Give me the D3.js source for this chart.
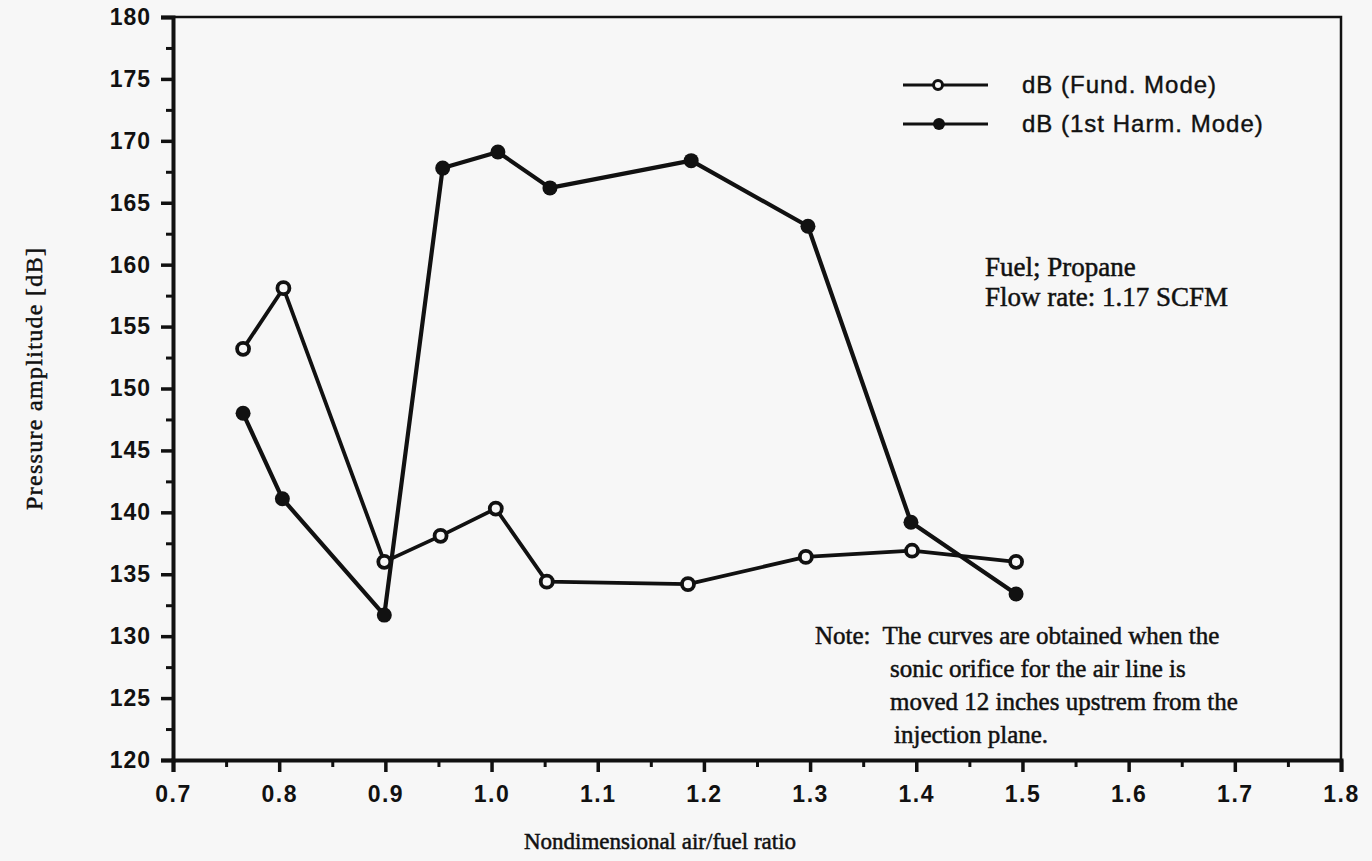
<!DOCTYPE html>
<html>
<head>
<meta charset="utf-8">
<script src="https://cdn.jsdelivr.net/npm/d3@7"></script>
<style>
  html, body { margin: 0; padding: 0; background: #f7f7f7; }
  svg { display: block; }
  .tick-label { font-family: "Liberation Sans", Arial, sans-serif; font-weight: bold; font-size: 23px; fill: #111; }
  .serif { font-family: "Liberation Serif", "Times New Roman", serif; fill: #111; stroke: #111; stroke-width: 0.5px; }
</style>
</head>
<body>
<div id="chart"></div>
<script>
// values
const xFund = [0.766, 0.804, 0.899, 0.952, 1.004, 1.052, 1.185, 1.296, 1.396, 1.494];
const dbFund = [153.2, 158.1, 136.0, 138.1, 140.3, 134.4, 134.2, 136.4, 136.9, 136.0];
const xHarm = [0.766, 0.803, 0.899, 0.954, 1.006, 1.055, 1.188, 1.298, 1.395, 1.494];
const dbHarm = [148.0, 141.1, 131.7, 167.8, 169.1, 166.2, 168.4, 163.1, 139.2, 133.4];

const xTicks = [0.7, 0.8, 0.9, 1.0, 1.1, 1.2, 1.3, 1.4, 1.5, 1.6, 1.7, 1.8];
const yTicks = [120, 125, 130, 135, 140, 145, 150, 155, 160, 165, 170, 175, 180];
const seriesNames = ["dB (Fund. Mode)", "dB (1st Harm. Mode)"];
const noteLines = ["Note:  The curves are obtained when the",
                   "sonic orifice for the air line is",
                   "moved 12 inches upstrem from the",
                   "injection plane."];
const fuelLines = ["Fuel; Propane", "Flow rate: 1.17 SCFM"];

const width = 1372, height = 861;
const margin = {top: 17, right: 31, bottom: 101, left: 173};

const svg = d3.select("#chart").append("svg")
    .attr("width", width)
    .attr("height", height);

const x = d3.scaleLinear().domain([0.7, 1.8]).range([margin.left, width - margin.right]);
const y = d3.scaleLinear().domain([120, 180]).range([height - margin.bottom, margin.top]);

// frame: top and right are thinner than the axes
svg.append("path")
    .attr("d", `M${x(0.7)},${y(180)}H${x(1.8)}V${y(120)}`)
    .attr("fill", "none").attr("stroke", "#111").attr("stroke-width", 2.5);

// minor ticks
const xMinor = d3.range(0.75, 1.8, 0.1);
const yMinor = d3.range(122.5, 180, 5);

svg.append("g")
    .attr("transform", `translate(0,${y(120)})`)
    .call(d3.axisBottom(x).tickValues(xMinor).tickSize(7).tickFormat(""))
    .call(g => g.select(".domain").remove())
    .call(g => g.selectAll("line").attr("stroke", "#111").attr("stroke-width", 3));

svg.append("g")
    .attr("transform", `translate(${x(0.7)},0)`)
    .call(d3.axisLeft(y).tickValues(yMinor).tickSize(7).tickFormat(""))
    .call(g => g.select(".domain").remove())
    .call(g => g.selectAll("line").attr("stroke", "#111").attr("stroke-width", 3));

// major ticks + labels
const xAxis = svg.append("g")
    .attr("transform", `translate(0,${y(120)})`)
    .call(d3.axisBottom(x).tickValues(xTicks).tickSize(12).tickPadding(9).tickFormat(d3.format(".1f")));
xAxis.select(".domain").attr("stroke", "#111").attr("stroke-width", 4);
xAxis.selectAll("line").attr("stroke", "#111").attr("stroke-width", 3.5);
xAxis.selectAll("text").attr("class", "tick-label").attr("letter-spacing", "1.5px").attr("dy", "0.9em");

const yAxis = svg.append("g")
    .attr("transform", `translate(${x(0.7)},0)`)
    .call(d3.axisLeft(y).tickValues(yTicks).tickSize(12).tickPadding(10));
yAxis.select(".domain").attr("stroke", "#111").attr("stroke-width", 4);
yAxis.selectAll("line").attr("stroke", "#111").attr("stroke-width", 3.5);
yAxis.selectAll("text").attr("class", "tick-label").attr("letter-spacing", "1px");

// axis titles
svg.append("text")
    .attr("class", "serif")
    .attr("x", 660).attr("y", 849)
    .attr("text-anchor", "middle")
    .attr("font-size", 23)
    .text("Nondimensional air/fuel ratio");

svg.append("text")
    .attr("class", "serif")
    .attr("transform", "translate(42,379) rotate(-90)")
    .attr("text-anchor", "middle")
    .attr("font-size", 24)
    .attr("textLength", 262)
    .text("Pressure amplitude [dB]");

// data
const fund = xFund.map((v, i) => [v, dbFund[i]]);
const harm = xHarm.map((v, i) => [v, dbHarm[i]]);
const line = d3.line().x(d => x(d[0])).y(d => y(d[1]));

svg.append("path").datum(harm)
    .attr("d", line).attr("fill", "none")
    .attr("stroke", "#111").attr("stroke-width", 4.2).attr("stroke-linejoin", "round");
svg.append("path").datum(fund)
    .attr("d", line).attr("fill", "none")
    .attr("stroke", "#111").attr("stroke-width", 3.8).attr("stroke-linejoin", "round");

svg.append("g").selectAll("circle").data(harm).join("circle")
    .attr("cx", d => x(d[0])).attr("cy", d => y(d[1])).attr("r", 7.5)
    .attr("fill", "#111");
svg.append("g").selectAll("circle").data(fund).join("circle")
    .attr("cx", d => x(d[0])).attr("cy", d => y(d[1])).attr("r", 6)
    .attr("fill", "#f7f7f7").attr("stroke", "#111").attr("stroke-width", 3.8);

// legend
const legend = svg.append("g");
const legY = [85, 124];
seriesNames.forEach((name, i) => {
  const g = legend.append("g").attr("transform", `translate(0,${legY[i]})`);
  g.append("line").attr("x1", 903).attr("x2", 988)
    .attr("stroke", "#111").attr("stroke-width", 3);
  if (i === 0) {
    g.append("circle").attr("cx", 938).attr("r", 4.5)
      .attr("fill", "#f7f7f7").attr("stroke", "#111").attr("stroke-width", 3);
  } else {
    g.append("circle").attr("cx", 939).attr("r", 6).attr("fill", "#111");
  }
  g.append("text").attr("x", 1022).attr("dy", "0.35em")
    .attr("font-family", "'Liberation Sans', Arial, sans-serif")
    .attr("font-size", 24).attr("letter-spacing", "1px")
    .attr("fill", "#111").attr("stroke", "#111").attr("stroke-width", 0.4)
    .text(name);
});

// annotations
svg.append("g").selectAll("text").data(fuelLines).join("text")
    .attr("class", "serif")
    .attr("x", 985).attr("y", (d, i) => 276 + i * 30)
    .attr("font-size", 27)
    .text(d => d);

const noteX = [815, 890, 890, 894];
svg.append("g").selectAll("text").data(noteLines).join("text")
    .attr("class", "serif")
    .attr("x", (d, i) => noteX[i]).attr("y", (d, i) => 644 + i * 33)
    .attr("font-size", 25)
    .attr("xml:space", "preserve")
    .text(d => d);
</script>
</body>
</html>
